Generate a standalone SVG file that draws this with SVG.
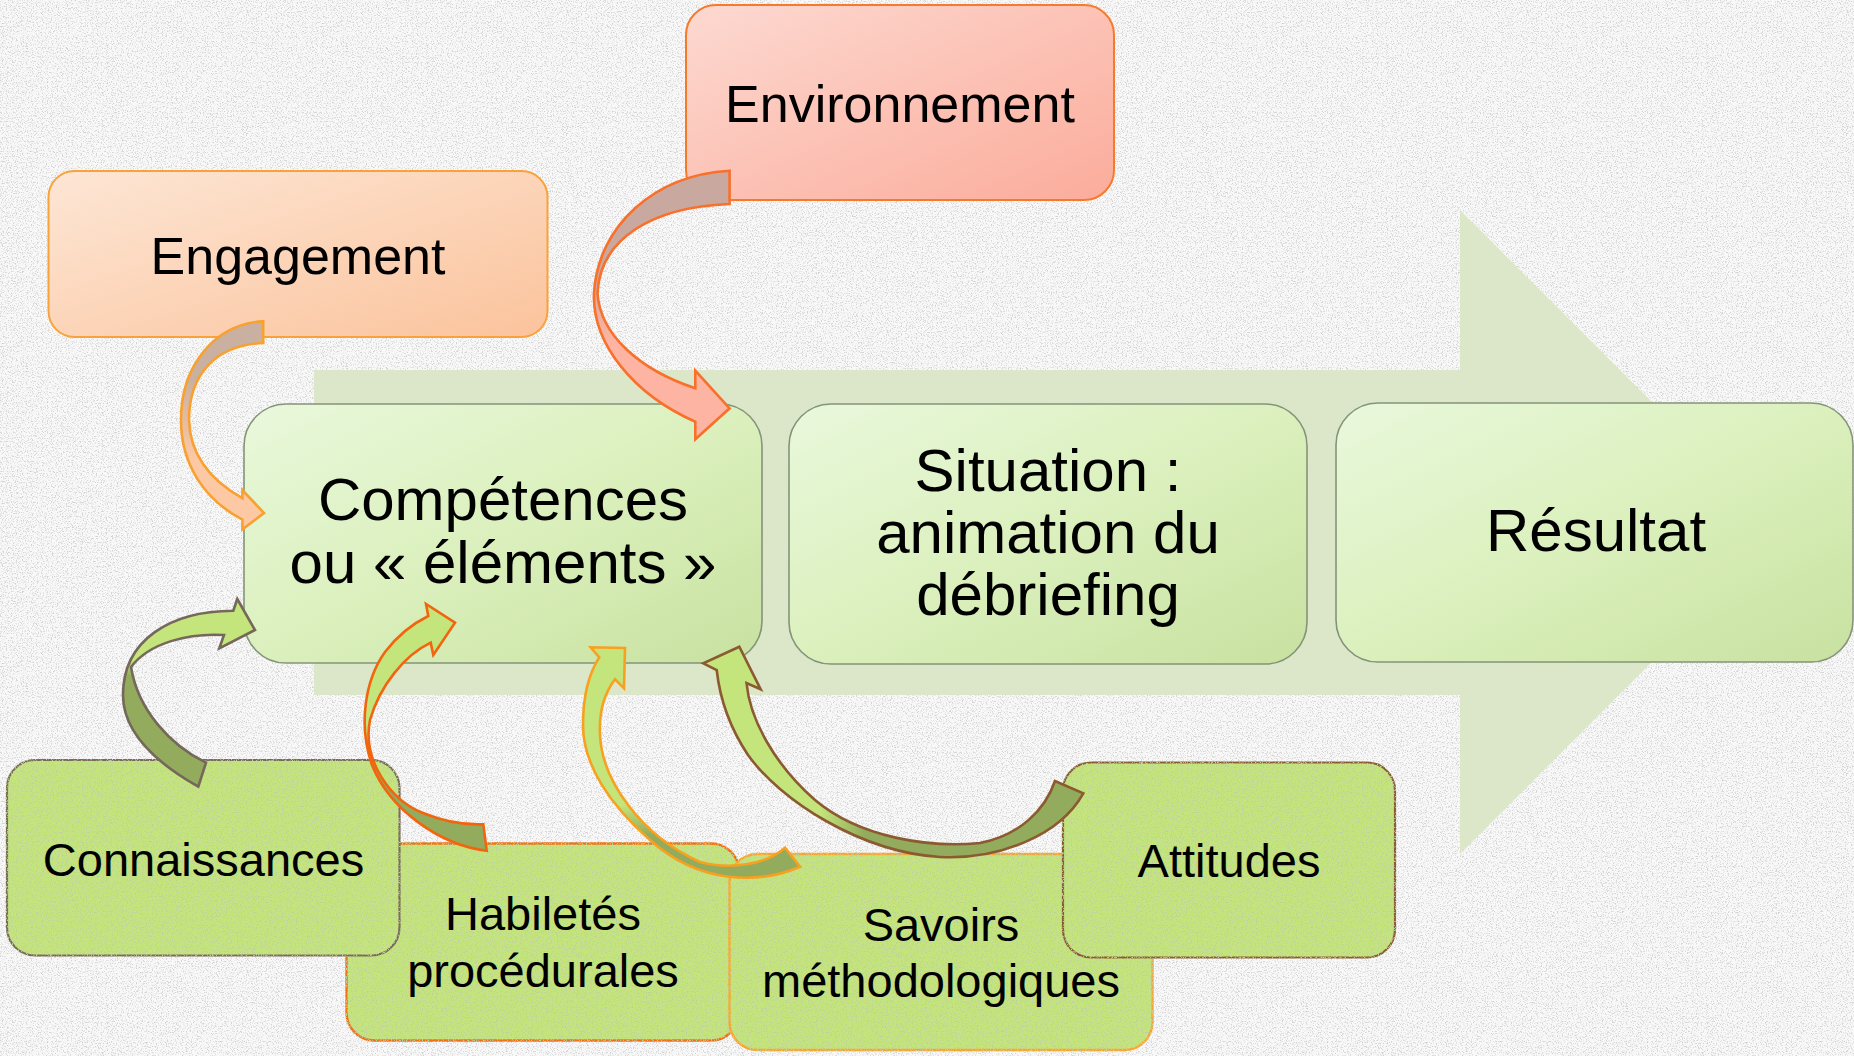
<svg xmlns="http://www.w3.org/2000/svg" width="1854" height="1056" viewBox="0 0 1854 1056">
<style>
  .t{font-family:"Liberation Sans",Arial,sans-serif;fill:#000;text-anchor:middle}
  .big{font-size:60px}
  .mid{font-size:52px}
  .sm{font-size:47px}
  .mainbox{fill:url(#gMain);stroke:#849478;stroke-width:1.6}
  .leaf{fill:#c4e47c;filter:url(#tex)}
  .arr{stroke-width:2.6;stroke-linejoin:miter}
</style>
<defs>
  <filter id="bgnoise" filterUnits="userSpaceOnUse" x="0" y="0" width="1854" height="1056">
    <feTurbulence type="fractalNoise" baseFrequency="0.8" numOctaves="2" seed="7" result="t"/>
    <feColorMatrix in="t" type="matrix" values="0 0 0 0 0.62  0 0 0 0 0.62  0 0 0 0 0.62  5 0 0 0 -2.55"/>
  </filter>
  <filter id="tex" x="-2%" y="-2%" width="104%" height="104%">
    <feTurbulence type="fractalNoise" baseFrequency="0.8" numOctaves="2" seed="3" result="n"/>
    <feColorMatrix in="n" type="matrix" values="0 0 0 0 0.52  0 0 0 0 0.64  0 0 0 0 0.32  5 0 0 0 -2.55" result="dots"/>
    <feComposite in="dots" in2="SourceGraphic" operator="in" result="d2"/>
    <feMerge><feMergeNode in="SourceGraphic"/><feMergeNode in="d2"/></feMerge>
  </filter>
  <linearGradient id="gMain" x1="0" y1="0" x2="1" y2="1">
    <stop offset="0" stop-color="#e9f8dc"/>
    <stop offset="0.5" stop-color="#dbf0bd"/>
    <stop offset="1" stop-color="#c8e1a0"/>
  </linearGradient>
  <linearGradient id="gEng" x1="0" y1="0" x2="1" y2="1">
    <stop offset="0" stop-color="#fde6d5"/>
    <stop offset="1" stop-color="#fbc39c"/>
  </linearGradient>
  <linearGradient id="gEnv" x1="0" y1="0" x2="1" y2="1">
    <stop offset="0" stop-color="#fdd9d1"/>
    <stop offset="1" stop-color="#fbac9b"/>
  </linearGradient>
  <linearGradient id="aEng" gradientUnits="userSpaceOnUse" x1="0" y1="380" x2="0" y2="460">
    <stop offset="0" stop-color="#c9b0a0"/>
    <stop offset="1" stop-color="#fdc9a5"/>
  </linearGradient>
  <linearGradient id="aEnv" gradientUnits="userSpaceOnUse" x1="0" y1="270" x2="0" y2="340">
    <stop offset="0" stop-color="#c9a8a0"/>
    <stop offset="1" stop-color="#fdb4a2"/>
  </linearGradient>
  <linearGradient id="aCon" gradientUnits="userSpaceOnUse" x1="0" y1="660" x2="0" y2="676">
    <stop offset="0" stop-color="#c4e47c"/>
    <stop offset="1" stop-color="#93ab5c"/>
  </linearGradient>
  <linearGradient id="aHab" gradientUnits="userSpaceOnUse" x1="0" y1="730" x2="0" y2="760">
    <stop offset="0" stop-color="#c4e47c"/>
    <stop offset="1" stop-color="#93ab5c"/>
  </linearGradient>
  <linearGradient id="aSav" gradientUnits="userSpaceOnUse" x1="0" y1="805" x2="0" y2="835">
    <stop offset="0" stop-color="#c4e47c"/>
    <stop offset="1" stop-color="#93ab5c"/>
  </linearGradient>
  <linearGradient id="aAtt" gradientUnits="userSpaceOnUse" x1="820" y1="0" x2="865" y2="0">
    <stop offset="0" stop-color="#c4e47c"/>
    <stop offset="1" stop-color="#93ab5c"/>
  </linearGradient>
</defs>

<rect width="1854" height="1056" fill="#f8f8f8"/>
<rect width="1854" height="1056" fill="#fff" filter="url(#bgnoise)" opacity="0.85"/>

<g id="process-arrow">
  <path d="M314,370 H1460 V210 L1782,532 L1460,854 V695 H314 Z" fill="#dce7c9"/>
</g>

<g id="node-competences">
  <rect class="mainbox" x="244" y="404" width="518" height="259" rx="42"/>
  <text class="t big" x="503" y="520">Compétences</text>
  <text class="t big" x="503" y="583">ou « éléments »</text>
</g>
<g id="node-situation">
  <rect class="mainbox" x="789" y="404" width="518" height="260" rx="42"/>
  <text class="t big" x="1048" y="491">Situation :</text>
  <text class="t big" x="1048" y="553">animation du</text>
  <text class="t big" x="1048" y="615">débriefing</text>
</g>
<g id="node-resultat">
  <rect class="mainbox" x="1336" y="403" width="517" height="259" rx="42"/>
  <text class="t big" x="1596" y="551">Résultat</text>
</g>

<g id="node-engagement">
  <rect x="48.5" y="171" width="499" height="166" rx="26" fill="url(#gEng)" stroke="#f9a23a" stroke-width="2"/>
  <text class="t mid" x="298" y="274">Engagement</text>
</g>
<g id="node-environnement">
  <rect x="686" y="5" width="428" height="195" rx="30" fill="url(#gEnv)" stroke="#f77a2c" stroke-width="2"/>
  <text class="t mid" x="900" y="122">Environnement</text>
</g>

<g id="node-habiletes">
  <rect class="leaf" x="346.5" y="843.5" width="392.5" height="197" rx="28" stroke="#f2700f" stroke-width="2.4"/>
  <text class="t sm" x="543" y="930">Habiletés</text>
  <text class="t sm" x="543" y="987">procédurales</text>
</g>
<g id="node-savoirs">
  <rect class="leaf" x="729.5" y="854" width="423" height="196" rx="28" stroke="#f8a630" stroke-width="2.4"/>
  <text class="t sm" x="941" y="941">Savoirs</text>
  <text class="t sm" x="941" y="997">méthodologiques</text>
</g>
<g id="node-connaissances">
  <rect class="leaf" x="7" y="760" width="392.5" height="195.5" rx="28" stroke="#7a6b5a" stroke-width="2.2"/>
  <text class="t sm" x="203.5" y="876">Connaissances</text>
</g>
<g id="node-attitudes">
  <rect class="leaf" x="1063" y="762.5" width="332" height="195" rx="28" stroke="#8b5b32" stroke-width="2.2"/>
  <text class="t sm" x="1229" y="877">Attitudes</text>
</g>

<g id="connectors">
  <path id="c-engagement" class="arr" fill="url(#aEng)" stroke="#f8a030"
    d="M263.2,321.4 C215,324 181,365 181,420 C181,465 205,500 242.4,519.6 L242.4,529.3 L264,513 L242.4,490 L242.4,498.2 C210,480 190,455 189,420 C189,375 215,345 263.2,343 Z"/>
  <path id="c-environnement" class="arr" fill="url(#aEnv)" stroke="#f8702a"
    d="M729.6,170.7 C655,175 598,225 594,293 C592,345 635,395 695.3,421.7 L695.3,439.3 L729.6,408.3 L695.3,370.7 L695.3,388.3 C640,370 600,335 597.5,293 C600,240 650,207 729.6,204 Z"/>
  <path id="c-connaissances" class="arr" fill="url(#aCon)" stroke="#75685a"
    d="M198.3,786.7 C160,765 123,735 123,695 C123,640 170,611 233.3,610.7 L237.3,599 L255,630 L219.3,648.3 L224,635 C190,633 150,642 131,667 C138,710 170,745 206,762.7 Z"/>
  <path id="c-habiletes" class="arr" fill="url(#aHab)" stroke="#f2650f"
    d="M486.7,850.7 C440,845 390,810 372,765 C358,725 365,680 385,652 C398,635 412,624 428.3,616 L426,604 L455,622.7 L433.3,655 L430.7,642.7 C405,655 380,685 370,720 C362,760 390,800 423,813 C445,822 465,825 483.3,824.3 Z"/>
  <path id="c-savoirs" class="arr" fill="url(#aSav)" stroke="#f8a020"
    d="M800,866.7 C760,884 700,885 650,840 C610,805 583,765 583,725 C583,700 588,675 599.3,657.3 L590.7,647.3 L625,648 L624,688.3 L615,679.3 C603,695 599,715 600,735 C602,780 640,835 700,862 C730,870 765,865 785,847.7 Z"/>
  <path id="c-attitudes" class="arr" fill="url(#aAtt)" stroke="#8b5a30"
    d="M1083.3,793.3 C1060,835 1000,860 940,857 C860,852 780,800 748,755 C730,728 720,700 716.7,670 L703.3,663.3 L739.3,646.7 L760.7,689.3 L746.5,683 C750,720 775,765 815,800 C860,838 930,848 980,843 C1020,835 1045,810 1055,781 Z"/>
</g>
</svg>
